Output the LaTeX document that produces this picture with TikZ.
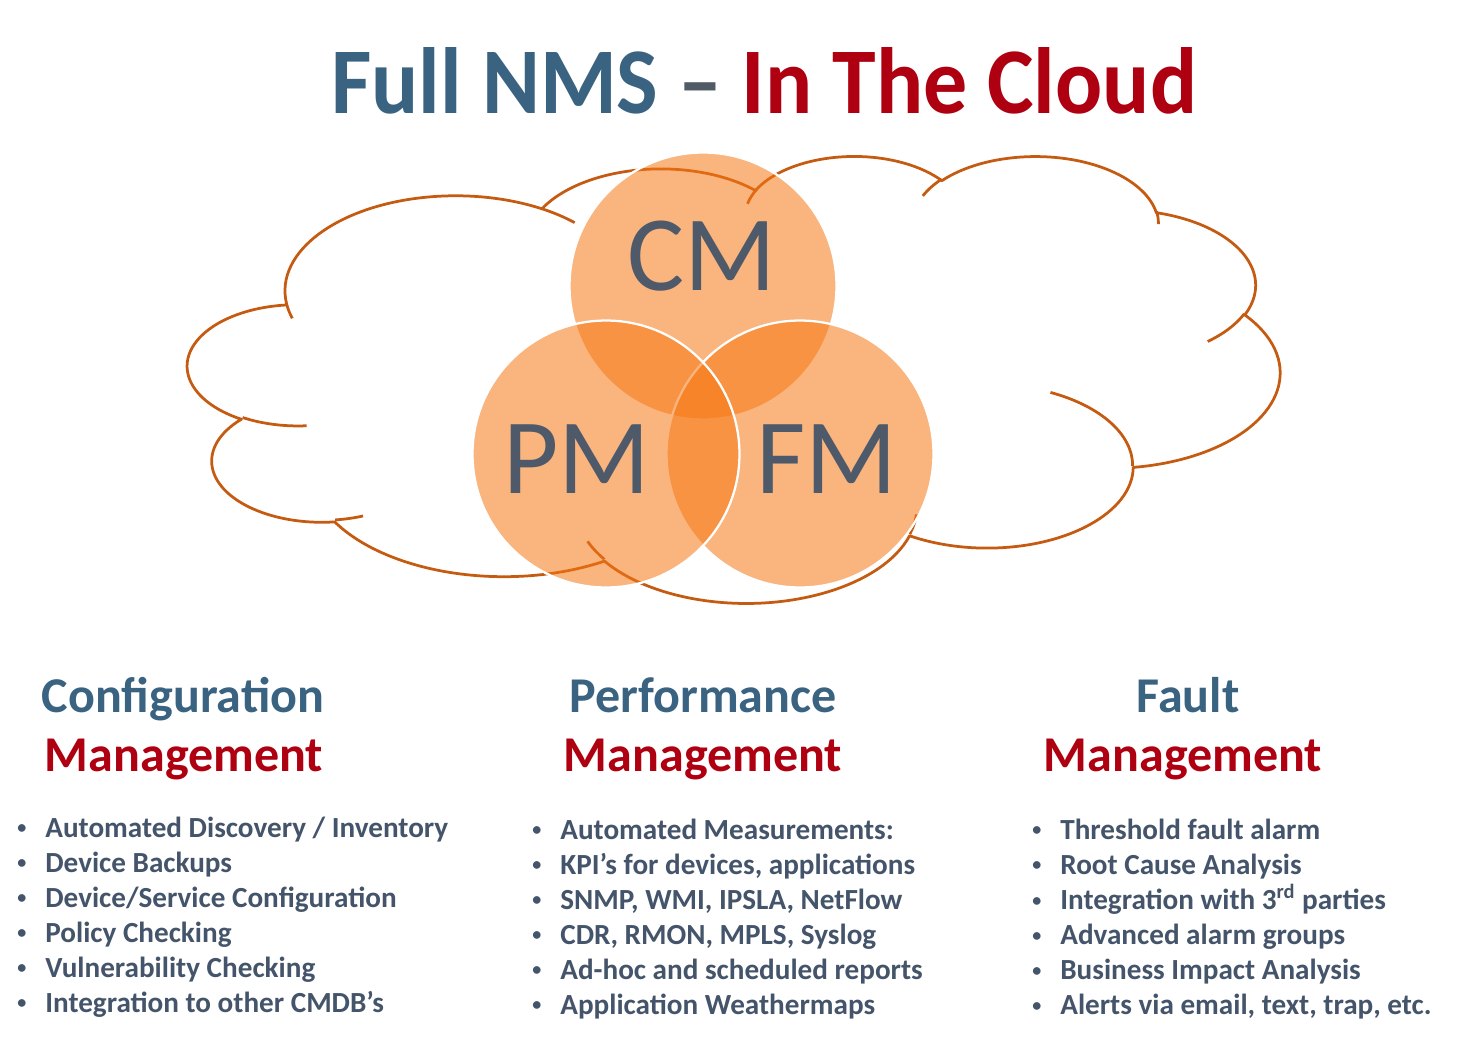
\documentclass[tikz,border=0pt]{standalone}
\usepackage{fontspec}
\setmainfont{Carlito}
\usepackage{xcolor}
\usepackage{graphicx}
\usetikzlibrary{calc}

\definecolor{nmsblue}{HTML}{3A6381}
\definecolor{nmsred}{HTML}{AE0011}
\definecolor{nmsdash}{HTML}{505B66}
\definecolor{nmstext}{HTML}{44546A}
\definecolor{nmslabel}{HTML}{4E5A6A}
\definecolor{cloudedge}{HTML}{C55A11}
\definecolor{vennfill}{RGB}{247,120,20}

% one lobe of the cloud: wR, hR, start angle, swing (visual angles)
\newcommand\lobecalc[4]{%
  \pgfmathsetmacro\cta{atan2(#1*sin(#3),#2*cos(#3))}%
  \pgfmathsetmacro\ctb{atan2(#1*sin(#3+#4),#2*cos(#3+#4))}%
  \pgfmathsetmacro\ctd{Mod(\ctb-\cta,360)}%
  \pgfmathsetmacro\ctb{\cta+\ctd}%
  \global\let\cta\cta\global\let\ctb\ctb}
\newcommand\lobe[4]{%
  \pgfextra{\lobecalc{#1}{#2}{#3}{#4}}
  arc[start angle=\cta, end angle=\ctb, x radius=#1, y radius=#2]}

\newcommand\itm{\makebox[0.56cm][l]{\raisebox{0.12em}{\scalebox{0.62}{\textbullet}}}}

\tikzset{
  cloudline/.style={
    draw=cloudedge,
    line width=0.055cm,
    line join=round
  },
  venn/.style={
    shape=circle,
    inner sep=0pt,
    minimum size=5.34cm,
    draw=white,
    line width=0.045cm,
    fill=vennfill,
    fill opacity=0.55
  },
  vennlabel/.style={
    text=nmslabel,
    font=\fontsize{61pt}{61pt}\selectfont,
    anchor=base,
    inner sep=0pt
  },
  heading/.style={
    font=\bfseries\fontsize{28.5pt}{34pt}\selectfont,
    anchor=base,
    inner sep=0pt
  },
  itemlist/.style={
    text=nmstext,
    font=\bfseries\fontsize{16.6pt}{19.92pt}\selectfont,
    anchor=base west,
    inner sep=0pt
  }
}

\begin{document}
\begin{tikzpicture}[x=0.02cm, y=-0.02cm]
        \fill[white] (0,0) rectangle (1471,1041);
        \useasboundingbox (0,0) rectangle (1471,1041);

        \node[anchor=base west, inner sep=0pt] (title) at (331,113)
          {\resizebox{17.32cm}{1.32cm}{\bfseries\textcolor{nmsblue}{Full NMS} \textcolor{nmsdash}{–} \textcolor{nmsred}{In The Cloud}}};

        % cloud, in shape units of 1/100
        \begin{scope}[shift={(188,155)}, x=0.050556cm, y=-0.0206944cm]
          \draw[cloudline] (39.00,143.70)
            \lobe{67.53}{91.90}{-190.4875}{123.7805}
            \lobe{53.33}{72.67}{-144.1024}{89.9452}
            \lobe{43.65}{59.45}{-145.8079}{99.7230}
            \lobe{48.57}{65.95}{-130.9861}{117.2417}
            \lobe{53.33}{72.73}{-78.7089}{109.0269}
            \lobe{67.75}{92.20}{-46.2673}{130.2690}
            \lobe{57.85}{78.67}{0.6250}{114.0333}
            \lobe{67.52}{92.15}{22.4516}{115.1726}
            \lobe{77.20}{105.43}{66.2426}{75.7110}
            \lobe{43.60}{59.18}{-274.9421}{146.7356}
            \lobe{43.45}{59.45}{-246.8285}{152.5189}
            -- cycle;
          \draw[cloudline]
            (46.93,261.77) \lobe{43.45}{59.45}{86.7420}{26.4295}
            (69.28,348.99) \lobe{43.60}{59.18}{73.6105}{11.4475}
            (164.78,390.90) \lobe{67.52}{92.15}{137.6242}{14.0811}
            (288.27,347.51) \lobe{67.52}{92.15}{6.4533}{15.9984}
            (341.29,229.54) \lobe{57.85}{78.67}{-70.2924}{70.9174}
            (417.98,153.54) \lobe{53.33}{72.73}{30.3180}{27.7515}
            (383.24,54.26) \lobe{48.57}{65.95}{-13.7443}{14.8661}
            (290.78,39.52) \lobe{48.57}{65.95}{-149.1815}{18.1874}
            (221.41,47.20) \lobe{43.65}{59.45}{-163.4943}{17.6864}
            (140.00,51.92) \lobe{67.53}{91.90}{-66.7070}{12.3194}
            (41.27,157.89) \lobe{67.53}{91.90}{157.6544}{11.8582};
        \end{scope}

        \node[venn] (cm) at (703,286) {};
        \node[venn] (fm) at (800,454) {};
        \node[venn] (pm) at (606,454) {};
        \node[vennlabel] (cmlabel) at (702,290) {CM};
        \node[vennlabel] (pmlabel) at (577,493) {PM};
        \node[vennlabel] (fmlabel) at (827,493) {FM};

        \node[heading, text=nmsblue] (cfgtop) at (183,712) {Configuration};
        \node[heading, text=nmsred] (cfgbottom) at (184,771) {Management};
        \node[heading, text=nmsblue] (perftop) at (703,712) {Performance};
        \node[heading, text=nmsred] (perfbottom) at (703,771) {Management};
        \node[heading, text=nmsblue] (faulttop) at (1188,712) {Fault};
        \node[heading, text=nmsred] (faultbottom) at (1183,771) {Management};

        \node[itemlist] (cfglist) at (17,837) {\begin{tabular}[t]{@{}l@{}}
          \itm Automated Discovery / Inventory\\
          \itm Device Backups\\
          \itm Device/Service Configuration\\
          \itm Policy Checking\\
          \itm Vulnerability Checking\\
          \itm Integration to other CMDB’s
        \end{tabular}};
        \node[itemlist] (perflist) at (532,839) {\begin{tabular}[t]{@{}l@{}}
          \itm Automated Measurements:\\
          \itm KPI’s for devices, applications\\
          \itm SNMP, WMI, IPSLA, NetFlow\\
          \itm CDR, RMON, MPLS, Syslog\\
          \itm Ad-hoc and scheduled reports\\
          \itm Application Weathermaps
        \end{tabular}};
        \node[itemlist] (faultlist) at (1032,839) {\begin{tabular}[t]{@{}l@{}}
          \itm Threshold fault alarm\\
          \itm Root Cause Analysis\\
          \itm Integration with 3\textsuperscript{rd} parties\\
          \itm Advanced alarm groups\\
          \itm Business Impact Analysis\\
          \itm Alerts via email, text, trap, etc.
        \end{tabular}};
\end{tikzpicture}
\end{document}
